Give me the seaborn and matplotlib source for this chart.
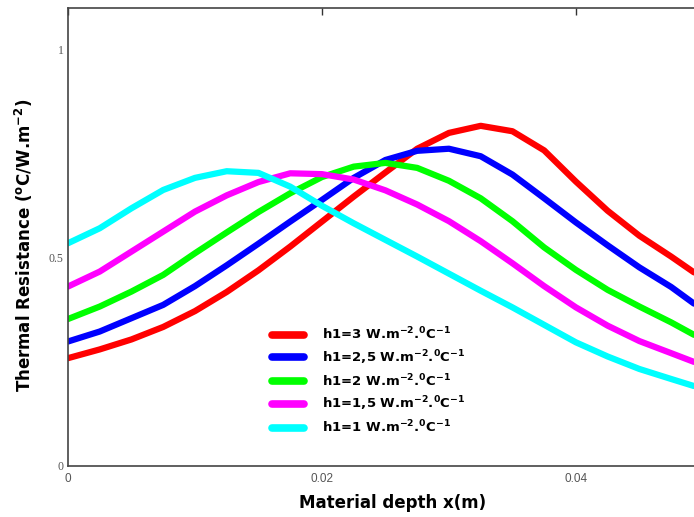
import numpy as np
import pandas as pd
import matplotlib
matplotlib.use("Agg")
import matplotlib.pyplot as plt
import seaborn as sns

# ---- data ----
depth = [0.0, 0.0025, 0.0050, 0.0075, 0.0100, 0.0125, 0.0150, 0.0175, 0.0200,
         0.0225, 0.0250, 0.0275, 0.0300, 0.0325, 0.0350, 0.0375, 0.0400,
         0.0425, 0.0450, 0.0475, 0.0493]
r_h3 = [0.259, 0.280, 0.304, 0.334, 0.372, 0.418, 0.470, 0.527, 0.587, 0.647,
        0.705, 0.762, 0.800, 0.817, 0.804, 0.758, 0.683, 0.613, 0.553, 0.503, 0.465]
r_h25 = [0.299, 0.323, 0.355, 0.387, 0.432, 0.482, 0.534, 0.587, 0.639, 0.692,
         0.735, 0.757, 0.762, 0.744, 0.700, 0.643, 0.585, 0.530, 0.477, 0.430, 0.390]
r_h2 = [0.353, 0.383, 0.419, 0.459, 0.511, 0.561, 0.610, 0.655, 0.694, 0.719,
        0.728, 0.716, 0.685, 0.643, 0.588, 0.525, 0.471, 0.423, 0.383, 0.345, 0.315]
r_h15 = [0.431, 0.467, 0.515, 0.563, 0.611, 0.650, 0.682, 0.703, 0.701, 0.688,
         0.662, 0.628, 0.588, 0.540, 0.487, 0.432, 0.381, 0.337, 0.300, 0.271, 0.250]
r_h1 = [0.535, 0.571, 0.619, 0.663, 0.692, 0.708, 0.704, 0.671, 0.625, 0.583,
        0.543, 0.503, 0.462, 0.421, 0.381, 0.339, 0.297, 0.263, 0.233, 0.209, 0.192]

series_labels = [r"h1=3 W.m$^{-2}$.$^{0}$C$^{-1}$",
                 r"h1=2,5 W.m$^{-2}$.$^{0}$C$^{-1}$",
                 r"h1=2 W.m$^{-2}$.$^{0}$C$^{-1}$",
                 r"h1=1,5 W.m$^{-2}$.$^{0}$C$^{-1}$",
                 r"h1=1 W.m$^{-2}$.$^{0}$C$^{-1}$"]
series_values = [r_h3, r_h25, r_h2, r_h15, r_h1]
colors = ["#FF0000", "#0000FF", "#00FF00", "#FF00FF", "#00FFFF"]
xticks = [0, 0.02, 0.04]
xtick_labels = ["0", "0.02", "0.04"]
yticks = [0, 0.5, 1]
ytick_labels = ["0", "0.5", "1"]

# ---- long-form table ----
rows = []
for lab, vals in zip(series_labels, series_values):
    for x, y in zip(depth, vals):
        rows.append({"depth": x, "R": y, "series": lab})
df = pd.DataFrame(rows)

sns.set_theme(style="white")
plt.rcParams["font.family"] = ["DejaVu Sans"]
plt.rcParams["mathtext.fontset"] = "dejavusans"
plt.rcParams["mathtext.default"] = "bf"
plt.rcParams["lines.solid_joinstyle"] = "round"
plt.rcParams["lines.solid_capstyle"] = "round"

W, H = 694, 517
fig = plt.figure(figsize=(W / 100, H / 100), dpi=100)
ax = fig.add_axes([68 / W, (H - 466) / H, (694 - 68) / W, (466 - 8) / H])

sns.lineplot(data=df, x="depth", y="R", hue="series", palette=colors,
             hue_order=series_labels, sort=False, linewidth=4.5, ax=ax,
             legend=False)
for ln in ax.get_lines():
    ln.set_solid_joinstyle("round")

ax.set_xlim(0, 0.0493)
ax.set_ylim(0, 1.1)

ax.set_xticks(xticks)
ax.set_xticklabels(xtick_labels, fontsize=8.5, color="#555555",
                   family="Liberation Sans")
ax.set_yticks(yticks)
ax.set_yticklabels(ytick_labels, fontsize=8.5, color="#555555",
                   family="Liberation Serif")
ax.tick_params(axis="both", direction="in", length=5, width=1, color="#333333",
               top=True, right=False, pad=3)
ax.tick_params(axis="x", pad=5)

for s in ["left", "bottom", "top"]:
    ax.spines[s].set_color("#444444")
    ax.spines[s].set_linewidth(1.2)
ax.spines["right"].set_visible(False)

ax.set_xlabel("Material depth x(m)", fontsize=12, fontweight="bold",
              color="black")
ax.xaxis.set_label_coords((393 - 68) / 626, -(494 - 466) / 458)
ax.set_ylabel(r"Thermal Resistance ($^{\mathbf{o}}$C/W.m$^{-2}$)", fontsize=12,
              fontweight="bold", color="black")
ax.yaxis.set_label_coords(-(68 - 35) / 626, (466 - 245) / 458)

handles = [plt.Line2D([], [], color=c, linewidth=5.5, solid_capstyle="round")
           for c in colors]
fig.legend(handles, series_labels, loc="upper left",
           bbox_to_anchor=(271.5 / W, 1 - 326 / H), frameon=False,
           prop={"family": "DejaVu Sans", "weight": "bold", "size": 9.5},
           labelcolor="black",
           handlelength=2.5, handletextpad=1.3,
           labelspacing=0.42, borderaxespad=0, borderpad=0)

fig.savefig("out.png", dpi=100)
